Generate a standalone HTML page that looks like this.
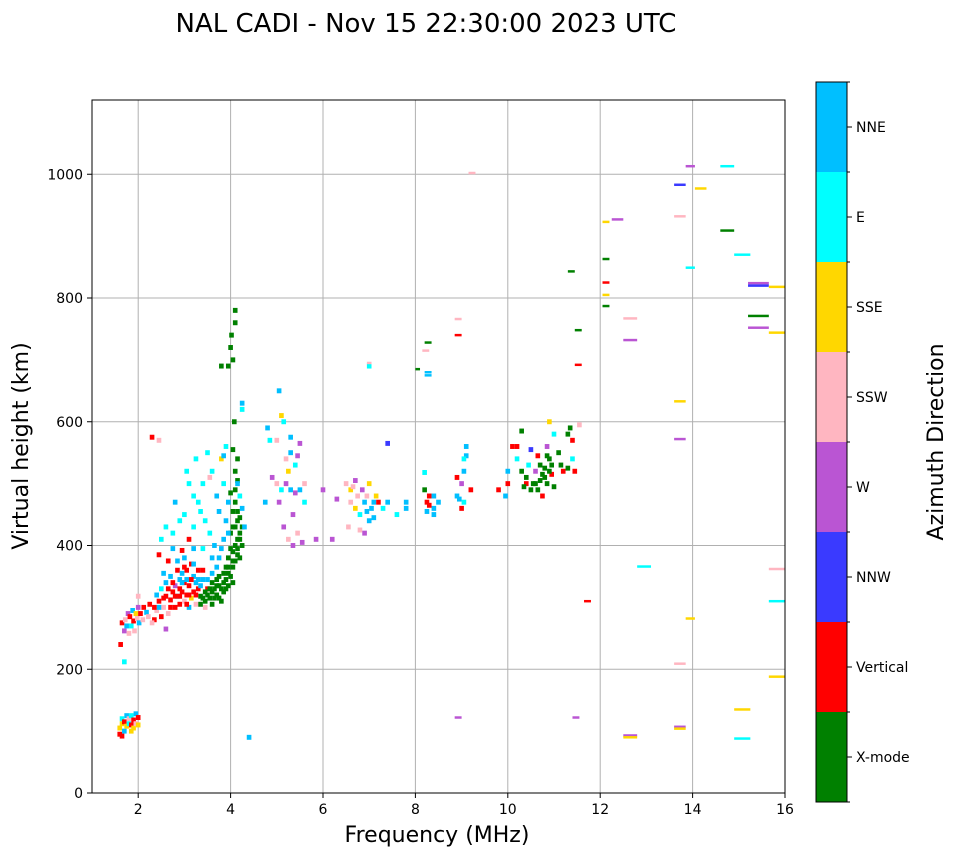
<!DOCTYPE html>
<html><head><meta charset="utf-8">
<style>
html,body{margin:0;padding:0;background:#fff;}
svg{display:block;font-family:"DejaVu Sans","Liberation Sans",sans-serif;}
</style></head>
<body>
<svg id="chart" width="958" height="857" viewBox="0 0 958 857" xmlns="http://www.w3.org/2000/svg">
<text x="426" y="32" font-size="26" text-anchor="middle" fill="#000">NAL CADI - Nov 15 22:30:00 2023 UTC</text>
<g id="grid"></g>
<g id="marks"></g>
<rect x="92" y="100" width="693" height="693" fill="none" stroke="#000" stroke-width="1"/>
<g id="axes"></g>
<text x="437" y="842" font-size="22" text-anchor="middle">Frequency (MHz)</text>
<text transform="translate(28,446) rotate(-90)" font-size="22" text-anchor="middle">Virtual height (km)</text>
<g id="cbar"></g>
<text transform="translate(943,442) rotate(-90)" font-size="22" text-anchor="middle">Azimuth Direction</text>
</svg>
<script>
const directionNames = ["X-mode","Vertical","NNW","W","SSW","SSE","E","NNE"];
const directionColors = ["#008000","#ff0000","#3a3aff","#ba55d3","#ffb6c1","#ffd700","#00ffff","#00bfff"];
const xTicks = [2,4,6,8,10,12,14,16];
const yTicks = [0,200,400,600,800,1000];

// [freq MHz, virtual height km, direction index]
const lowLayerEchoes = [[1.60,95,1],[1.60,105,5],[1.65,112,5],[1.65,120,6],[1.70,100,7],[1.70,115,1],[1.75,108,5],[1.75,125,7],[1.80,112,6],[1.80,120,4],[1.85,110,1],[1.85,125,6],[1.90,105,5],[1.90,118,1],[1.95,112,4],[1.95,128,7],[2.00,110,5],[2.00,122,1],[1.65,92,1],[1.85,100,5]];
const traceStartEchoes = [[1.62,240,1],[1.65,275,1],[1.70,262,3],[1.72,280,4],[1.75,270,7],[1.78,290,3],[1.80,258,4],[1.82,285,1],[1.85,270,6],[1.88,295,7],[1.90,278,1],[1.92,262,4],[1.95,290,5],[1.98,282,4],[2.00,300,3],[2.02,275,7],[2.05,290,1],[2.10,280,4],[2.12,300,1],[2.18,292,7],[2.22,285,4],[2.25,305,1],[1.70,212,6],[2.00,318,4]];
const fLayerEchoes = [[2.35,280,1],[2.40,295,4],[2.40,320,7],[2.45,310,1],[2.50,285,1],[2.50,330,6],[2.55,300,4],[2.60,318,1],[2.60,340,7],[2.65,290,4],[2.70,312,1],[2.70,350,7],[2.75,325,1],[2.80,300,1],[2.80,335,3],[2.85,318,7],[2.85,360,1],[2.90,305,1],[2.90,345,7],[2.95,325,1],[3.00,310,4],[3.00,340,1],[3.00,380,7],[3.05,320,1],[3.05,360,1],[3.10,300,7],[3.10,335,1],[3.15,315,5],[3.15,370,1],[3.20,325,1],[3.20,350,7],[3.25,305,4],[3.25,340,7],[3.30,330,1],[3.30,360,1],[3.35,318,0],[3.40,345,7],[3.45,300,4],[3.50,330,1],[2.45,385,1],[2.55,355,7],[2.65,375,1],[2.75,395,7],[2.95,392,1],[3.10,410,1],[3.20,395,7],[2.60,265,3],[2.30,275,4],[2.90,330,1],[3.05,345,7],[3.25,320,1],[2.75,340,1]];
const fLayerExtraEchoes = [[2.55,315,1],[2.65,330,1],[2.80,318,1],[2.95,340,7],[3.10,320,1],[3.15,345,1],[3.35,335,7],[2.85,375,7],[3.00,365,1],[3.20,370,7],[2.70,300,1],[2.90,318,1],[3.05,305,1],[2.45,300,7],[2.35,300,1],[3.40,360,1],[3.30,345,7],[2.95,355,7]];
const xModeEchoes = [[3.35,305,0],[3.40,315,0],[3.45,310,0],[3.50,320,0],[3.55,315,0],[3.60,325,0],[3.65,330,0],[3.70,320,0],[3.75,335,0],[3.80,330,0],[3.85,340,0],[3.90,345,0],[3.95,355,0],[4.00,350,0],[4.05,365,0],[4.10,375,0],[4.15,395,0],[4.20,410,0],[4.20,420,0],[4.25,400,0],[4.10,430,0],[4.15,440,0],[4.20,380,0],[3.95,380,0],[4.00,395,0],[3.90,365,0],[3.70,345,0],[3.80,310,0],[3.60,305,0],[4.05,455,0],[4.10,470,0],[4.00,485,0],[4.10,520,0],[4.15,540,0],[4.05,555,0],[4.08,600,0],[3.95,690,0],[4.05,700,0],[4.00,720,0],[4.02,740,0],[4.10,760,0],[4.10,780,0],[3.80,690,0],[4.00,420,0],[3.85,325,0],[3.95,335,0],[4.05,340,0],[3.75,315,0],[4.15,410,0],[4.05,390,0]];
const xModeExtraEchoes = [[3.45,325,0],[3.55,330,0],[3.65,315,0],[3.75,350,0],[3.85,355,0],[3.95,365,0],[4.05,375,0],[4.15,385,0],[4.25,430,0],[4.15,455,0],[4.05,430,0],[3.90,330,0],[3.70,335,0],[3.60,340,0],[4.10,400,0],[4.20,445,0],[4.10,490,0],[4.15,505,0]];
const spreadEchoes = [[3.50,345,7],[3.60,355,7],[3.70,365,7],[3.75,380,7],[3.85,410,7],[3.90,440,7],[3.65,400,7],[3.55,420,6],[3.45,440,6],[3.35,455,6],[3.30,470,6],[3.20,480,6],[3.10,500,6],[3.05,520,6],[3.60,520,6],[3.80,540,5],[3.85,500,6],[3.70,480,7],[3.95,470,7],[3.75,455,7],[4.15,500,7],[4.20,480,6],[4.25,460,7],[4.30,430,7],[4.25,620,6],[4.25,630,7],[3.55,510,4],[3.40,500,6],[3.00,450,6],[2.90,440,6],[2.75,420,6],[2.60,430,6],[2.50,410,6],[2.80,470,7],[3.25,540,6],[3.50,550,6],[3.85,545,7],[3.90,560,6],[2.30,575,1],[2.45,570,4],[4.40,90,7],[3.80,395,7],[3.95,420,7],[3.60,380,7],[3.40,395,6],[3.20,430,6]];
const midEchoes = [[4.80,590,7],[4.85,570,6],[5.00,570,4],[5.05,650,7],[5.10,610,5],[5.15,600,6],[5.30,575,7],[5.50,565,3],[4.90,510,3],[5.00,500,4],[5.10,490,6],[5.20,500,3],[5.30,490,7],[5.40,485,3],[5.50,490,7],[5.60,500,4],[5.25,520,5],[5.40,530,6],[5.05,470,3],[5.15,430,3],[5.25,410,4],[5.35,400,3],[5.45,420,4],[5.55,405,3],[5.85,410,3],[4.75,470,7],[5.30,550,7],[5.20,540,4],[5.45,545,3],[5.35,450,3],[5.60,470,6],[6.00,490,3],[6.30,475,3],[6.50,500,4],[6.60,490,5],[6.70,505,3],[6.60,470,4],[6.70,460,5],[6.80,450,6],[6.90,470,7],[6.95,480,4],[7.00,500,5],[7.05,460,7],[7.10,445,7],[7.20,470,1],[7.30,460,6],[7.40,470,7],[6.55,430,4],[6.80,425,4],[6.90,420,3],[7.00,440,7],[6.85,490,3],[7.15,480,5],[7.40,565,2],[7.00,690,6],[7.80,460,7],[7.80,470,7],[7.60,450,6],[6.20,410,3],[6.75,480,4],[6.65,495,4],[6.95,455,7],[7.10,470,7]];
const highEchoes = [[8.20,490,0],[8.25,470,1],[8.30,480,1],[8.40,480,7],[8.50,470,7],[8.40,460,7],[8.25,455,7],[8.40,450,7],[8.20,518,6],[8.90,510,1],[8.90,480,7],[9.00,500,3],[9.05,520,7],[9.10,545,7],[9.10,560,7],[9.05,470,6],[9.00,460,1],[9.20,490,1],[8.95,475,7],[9.05,540,6],[9.80,490,1],[9.95,480,7],[10.00,520,7],[10.00,500,1],[10.10,560,1],[10.20,540,6],[10.30,520,0],[10.30,585,0],[10.40,500,1],[10.40,510,0],[10.45,530,6],[10.50,490,0],[10.50,555,2],[10.55,500,0],[10.60,520,3],[10.65,545,1],[10.70,505,0],[10.75,480,1],[10.80,525,0],[10.85,560,3],[10.85,500,0],[10.90,540,0],[10.95,515,1],[11.00,580,6],[11.00,495,0],[11.10,550,0],[11.15,530,0],[11.20,520,1],[11.30,580,0],[11.40,570,1],[11.45,520,1],[11.55,595,4],[10.90,600,5],[10.60,500,0],[10.70,530,0],[11.30,525,0],[10.35,495,0],[10.20,560,1],[11.35,590,0],[11.40,540,6],[10.80,510,0],[10.90,520,0],[10.65,490,0],[10.75,515,0],[10.95,530,0],[10.85,545,0],[8.30,465,1]];
// [freq start, freq end, height km, direction index]
const dashEchoes = [[9.15,9.3,1002,4],[8.2,8.35,728,0],[8.15,8.3,715,4],[8.2,8.35,680,7],[8.2,8.35,675,7],[8.0,8.1,685,0],[8.85,9.0,766,4],[8.85,9.0,740,1],[8.85,9.0,122,3],[6.95,7.05,695,4],[11.3,11.45,843,0],[11.45,11.6,748,0],[11.45,11.6,692,1],[11.65,11.8,310,1],[11.4,11.55,122,3],[12.05,12.2,923,5],[12.05,12.2,863,0],[12.05,12.2,825,1],[12.05,12.2,805,5],[12.05,12.2,787,0],[12.25,12.5,927,3],[12.5,12.8,767,4],[12.5,12.8,732,3],[12.5,12.8,93,3],[12.5,12.8,90,5],[12.8,13.1,366,6],[13.6,13.85,983,2],[13.6,13.85,932,4],[13.6,13.85,633,5],[13.6,13.85,572,3],[13.6,13.85,209,4],[13.6,13.85,107,3],[13.6,13.85,104,5],[13.85,14.05,1013,3],[13.85,14.05,849,6],[13.85,14.05,282,5],[14.05,14.3,977,5],[14.6,14.9,1013,6],[14.6,14.9,909,0],[14.9,15.25,870,6],[14.9,15.25,135,5],[14.9,15.25,88,6],[15.2,15.65,824,3],[15.2,15.65,820,2],[15.2,15.65,771,0],[15.2,15.65,752,3],[15.65,16,818,5],[15.65,16,744,5],[15.65,16,362,4],[15.65,16,310,6],[15.65,16,188,5]];

const NS = "http://www.w3.org/2000/svg";
const PX0 = 92, PX1 = 785, PY0 = 793, PY1 = 100;
const xMin = 1, xMax = 16, yMin = 0, yMax = 1120;
function xScale(f){ return PX0 + (f - xMin) / (xMax - xMin) * (PX1 - PX0); }
function yScale(h){ return PY0 - (h - yMin) / (yMax - yMin) * (PY0 - PY1); }
function mk(tag, attrs, parent){
  const el = document.createElementNS(NS, tag);
  for (const k in attrs) el.setAttribute(k, attrs[k]);
  parent.appendChild(el);
  return el;
}
const grid = document.getElementById("grid");
const axes = document.getElementById("axes");
const marks = document.getElementById("marks");
const cbar = document.getElementById("cbar");

xTicks.forEach(t => {
  const x = xScale(t);
  const g = mk("line", {x1:x, x2:x, y1:PY1, y2:PY0, stroke:"#b0b0b0", "stroke-width":1}, grid);
  
  
  const tk = mk("line", {x1:x, x2:x, y1:PY0, y2:PY0+5, stroke:"#000"}, axes);
  
  
  const lb = mk("text", {x:x, y:PY0+21, "font-size":14, "text-anchor":"middle"}, axes);
  lb.textContent = t;
  
  
});
yTicks.forEach(t => {
  const y = yScale(t);
  const g = mk("line", {x1:PX0, x2:PX1, y1:y, y2:y, stroke:"#b0b0b0", "stroke-width":1}, grid);
  
  
  const tk = mk("line", {x1:PX0-5, x2:PX0, y1:y, y2:y, stroke:"#000"}, axes);
  
  
  const lb = mk("text", {x:PX0-9, y:y+5, "font-size":14, "text-anchor":"end"}, axes);
  lb.textContent = t;
  
  
});

const cellW = 0.1, cellH = 8;
[lowLayerEchoes, traceStartEchoes, fLayerEchoes, fLayerExtraEchoes, xModeEchoes, xModeExtraEchoes, spreadEchoes, midEchoes, highEchoes].forEach(group => {
  group.forEach(p => {
    const x = xScale(p[0] - cellW/2), y = yScale(p[1] + cellH/2);
    const r = mk("rect", {x:x, y:y, width:xScale(p[0]+cellW/2)-x, height:yScale(p[1]-cellH/2)-y, fill:directionColors[p[2]]}, marks);
    
    
  });
});
dashEchoes.forEach(d => {
  const x = xScale(d[0]), y = yScale(d[2] + 2);
  const r = mk("rect", {x:x, y:y, width:xScale(d[1])-x, height:yScale(d[2]-2)-y, fill:directionColors[d[3]]}, marks);
  
  
});

const CB_X = 816, CB_W = 31, CB_TOP = 82, CB_BOT = 802;
const segH = (CB_BOT - CB_TOP) / directionNames.length;
directionNames.forEach((name, i) => {
  const y = CB_BOT - (i + 1) * segH;
  const r = mk("rect", {x:CB_X, y:y, width:CB_W, height:segH, fill:directionColors[i]}, cbar);
  
  
  const cy = y + segH/2;
  const tk = mk("line", {x1:CB_X+CB_W, x2:CB_X+CB_W+5, y1:cy, y2:cy, stroke:"#000"}, cbar);
  
  
  const lb = mk("text", {x:CB_X+CB_W+9, y:cy+5, "font-size":14}, cbar);
  lb.textContent = name;
  
  
});
for (let i = 0; i <= directionNames.length; i++) {
  const y = CB_BOT - i * segH;
  const tk = mk("line", {x1:CB_X+CB_W, x2:CB_X+CB_W+3, y1:y, y2:y, stroke:"#000"}, cbar);
  
  
}
const frame = mk("rect", {x:CB_X, y:CB_TOP, width:CB_W, height:CB_BOT-CB_TOP, fill:"none", stroke:"#000"}, cbar);


</script>
</body></html>
